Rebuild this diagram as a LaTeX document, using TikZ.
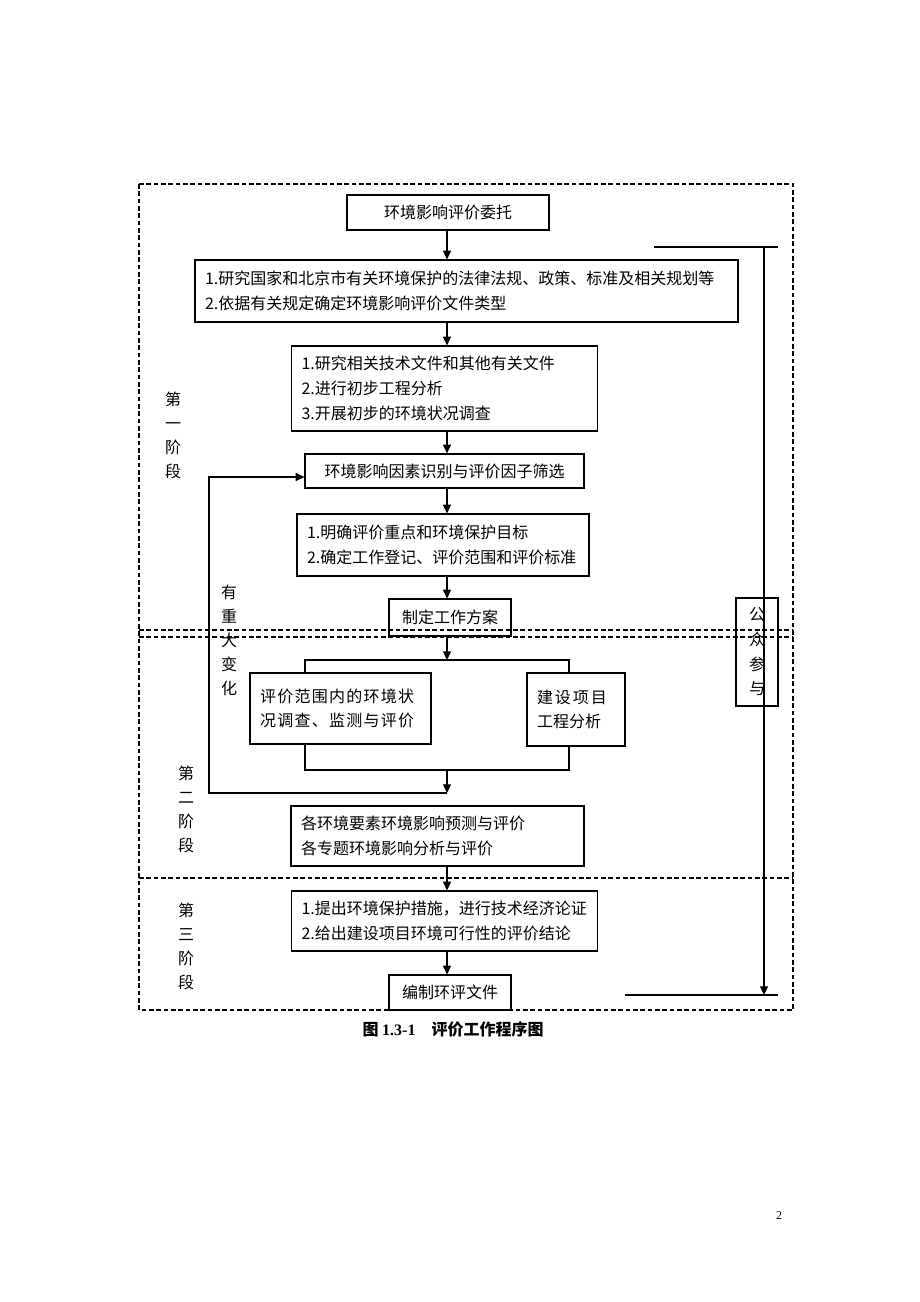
\documentclass[tikz,border=0pt]{standalone}
\usepackage{fontspec}
\newfontfamily\cjk{Noto Sans CJK SC}
\newfontfamily\cjkwide{Noto Sans CJK SC}[LetterSpace=8]
\newfontfamily\capfont{Liberation Serif}
\usetikzlibrary{arrows.meta}
\tikzset{
  box/.style={draw,line width=0.9pt,inner xsep=7.5pt,inner ysep=0pt,
    font=\cjk\fontsize{12}{18.5}\selectfont},
  cbox/.style 2 args={box,minimum width=#1,minimum height=#2,align=center},
  lbox/.style 2 args={box,text width=#1,minimum height=#2,align=left},
  arr/.style={line width=0.8pt,-{Triangle[length=6.5pt,width=6pt]}},
  line/.style={line width=0.8pt},
  phase/.style={line width=0.9pt,dash pattern=on 3.5pt off 2pt},
  vlabel/.style={align=center,font=\cjk\fontsize{12}{18}\selectfont}
}
\begin{document}
\begin{tikzpicture}[x=0.75pt,y=-0.75pt]
\useasboundingbox (0,0) rectangle (920,1302);
% the three stages
\draw[phase] (139,184) rectangle (793,1010);
\draw[phase] (139,630) -- (793,630);
\draw[phase] (139,637) -- (793,637);
\draw[phase] (139,878) -- (793,878);
\coordinate (ax) at (447,0);
% boxes
\node[cbox={151.5pt}{26.25pt}] (entrust) at (448,212.5) {环境影响评价委托};
\node[lbox={392.25pt}{46.5pt}] (law) at (466.5,291)
  {1.研究国家和北京市有关环境保护的法律法规、政策、标准及相关规划等\\2.依据有关规定确定环境影响评价文件类型};
\node[lbox={214.5pt}{63.75pt}] (study) at (444.5,388.5)
  {1.研究相关技术文件和其他有关文件\\2.进行初步工程分析\\3.开展初步的环境状况调查};
\node[cbox={209.25pt}{25.5pt}] (factor) at (444.5,471) {环境影响因素识别与评价因子筛选};
\node[lbox={204pt}{46.5pt}] (target) at (443,545)
  {1.明确评价重点和环境保护目标\\2.确定工作登记、评价范围和评价标准};
\node[cbox={91.5pt}{27.75pt}] (plan) at (450,617.5) {制定工作方案};
\node[lbox={120.75pt}{53.25pt},font=\cjkwide\fontsize{12}{18.5}\selectfont] (survey) at (340.5,708.5)
  {评价范围内的环境状\\况调查、监测与评价};
\node[lbox={58.5pt}{54.75pt}] (project) at (576,709.5)
  {{\cjkwide\addfontfeature{LetterSpace=12}建设项目}\\工程分析};
\node[lbox={204.75pt}{45pt}] (predict) at (437.5,836)
  {各环境要素环境影响预测与评价\\各专题环境影响分析与评价};
\node[lbox={214.5pt}{45pt}] (measure) at (444.5,921)
  {1.提出环境保护措施，进行技术经济论证\\2.给出建设项目环境可行性的评价结论};
\node[cbox={91.5pt}{26.25pt}] (report) at (450,992.5) {编制环评文件};
\node[cbox={31.5pt}{81pt},inner xsep=0pt] (public) at (757,652) {公\\众\\参\\与};
% labels
\node[vlabel] (stage1) at (173,435) {第\\一\\阶\\段};
\node[vlabel] (stage2) at (186,809) {第\\二\\阶\\段};
\node[vlabel] (stage3) at (186,946) {第\\三\\阶\\段};
\node[vlabel] (change) at (229,640) {有\\重\\大\\变\\化};
% main flow
\draw[arr] (entrust.south -| ax) -- (law.north -| ax);
\draw[arr] (law.south -| ax) -- (study.north -| ax);
\draw[arr] (study.south -| ax) -- (factor.north -| ax);
\draw[arr] (factor.south -| ax) -- (target.north -| ax);
\draw[arr] (target.south -| ax) -- (plan.north -| ax);
\coordinate (splitL) at (305,660);
\coordinate (splitR) at (569,660);
\draw[arr] (plan.south -| ax) -- (ax |- splitL);
\draw[line] (survey.north -| splitL) -- (splitL) -- (splitR) -- ([yshift=-1.5pt]project.north -| splitR);
\coordinate (joinL) at (305,770);
\coordinate (joinR) at (569,770);
\draw[line] (survey.south -| joinL) -- (joinL) -- (joinR) -- (project.south -| joinR);
\coordinate (back) at (447,793);
\coordinate (backL) at (209,793);
\coordinate (backT) at (209,477);
\draw[arr] (ax |- joinL) -- (back);
\draw[arr] (back) -- (backL) -- (backT) -- (factor.west |- backT);
\draw[arr] (predict.south -| ax) -- (measure.north -| ax);
\draw[arr] (measure.south -| ax) -- (report.north -| ax);
% public participation
\coordinate (inL) at (654,247);
\coordinate (inR) at (778,247);
\coordinate (outL) at (625,995);
\coordinate (outR) at (778,995);
\draw[line] (inL) -- (inR);
\draw[arr] (764,247) -- (764,995);
\draw[line] (outL) -- (outR);
% caption and page
\node[font=\cjk\bfseries\fontsize{12}{14}\selectfont] (caption) at (453,1029)
  {图 {\capfont\bfseries 1.3-1}\quad 评价工作程序图};
\node[font=\capfont\fontsize{9}{11}\selectfont] (page) at (779,1216) {2};
\end{tikzpicture}
\end{document}
